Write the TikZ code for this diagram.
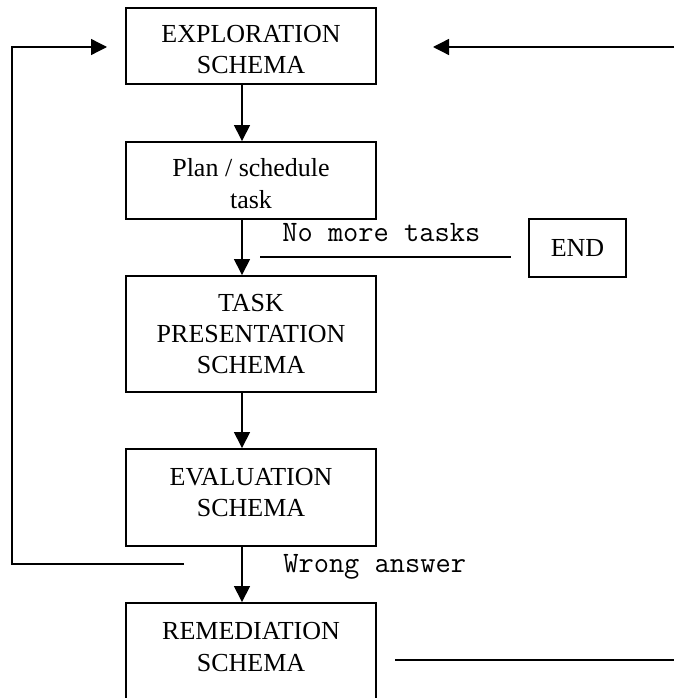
\documentclass[tikz,border=0pt]{standalone}
\usepackage{fontspec}
\setmainfont{Liberation Serif}
\usetikzlibrary{arrows.meta, positioning, calc}

\begin{document}
\begin{tikzpicture}[
    x=0.75pt, y=-0.75pt,
    font=\fontsize{19.5}{23.5}\selectfont,
    >={Triangle[length=12pt, width=12pt]},
    % Styles for the schema flow chart
    schema/.style={draw, line width=1.4pt, minimum width=187.5pt, inner sep=0pt},
    schemalabel/.style={align=center, inner sep=0pt},
    endbox/.style={draw, line width=1.2pt, minimum width=72.75pt, minimum height=43.5pt, inner sep=0pt},
    flow/.style={->, line width=1pt},
    branch/.style={line width=1pt},
    cond/.style={font=\ttfamily\fontsize{22.2}{26}\selectfont, anchor=base west, inner sep=0pt}
]

% ----------------------------------------------------
% Frame (the last box runs off the bottom edge)
% ----------------------------------------------------
\useasboundingbox (0,0) rectangle (674,698);
\clip (0,0) rectangle (674,698);

% ----------------------------------------------------
% SCHEMA BOXES
% ----------------------------------------------------
\node[schema, minimum height=57pt] (explore) at (251,46) {};
\node[schema, minimum height=57.75pt] (plan) at (251,180.5) {};
\node[schema, minimum height=87pt] (present) at (251,334) {};
\node[schema, minimum height=72.75pt] (evaluate) at (251,497.5) {};
\node[schema, minimum height=75pt] (remedy) at (251,653) {};

% Box texts (not quite centred in the original)
\node[schemalabel] (exploretext) at (251,49.5) {EXPLORATION\\SCHEMA};
\node[schemalabel] (plantext) at (251,183.5) {Plan / schedule\\task};
\node[schemalabel] (presenttext) at (251,334) {TASK\\PRESENTATION\\SCHEMA};
\node[schemalabel] (evaluatetext) at (251,492.5) {EVALUATION\\SCHEMA};
\node[schemalabel] (remedytext) at (251,647) {REMEDIATION\\SCHEMA};

\node[endbox] (finish) at (577.5,248) {END};

% ----------------------------------------------------
% MAIN FLOW
% ----------------------------------------------------
% Arrows run slightly left of the box centres
\coordinate (spine) at (242,0);
\draw[flow] (explore.south -| spine) -- (plan.north -| spine);
\draw[flow] (plan.south -| spine) -- (present.north -| spine);
\draw[flow] (present.south -| spine) -- (evaluate.north -| spine);
\draw[flow] (evaluate.south -| spine) -- (remedy.north -| spine);

% ----------------------------------------------------
% BRANCHES & LABELS
% ----------------------------------------------------
% No more tasks
\coordinate (doneA) at (260,257);
\coordinate (doneB) at (511,257);
\draw[branch] (doneA) -- (doneB);
\node[cond] (nomore) at (282,242) {No more tasks};

% Wrong answer loops back to exploration
\coordinate (wrongA) at (184,564);
\coordinate (loopcorner) at (12,564);
\coordinate (loopin) at (107,47);
\draw[flow] (wrongA) -- (loopcorner) |- (loopin);
\node[cond] (wrong) at (283,572) {Wrong answer};

% Return from the right
\coordinate (backin) at (674,47);
\coordinate (backtip) at (433,47);
\draw[flow] (backin) -- (backtip);

% Remediation exit
\coordinate (remA) at (395,660);
\coordinate (remB) at (674,660);
\draw[branch] (remA) -- (remB);

\end{tikzpicture}
\end{document}
